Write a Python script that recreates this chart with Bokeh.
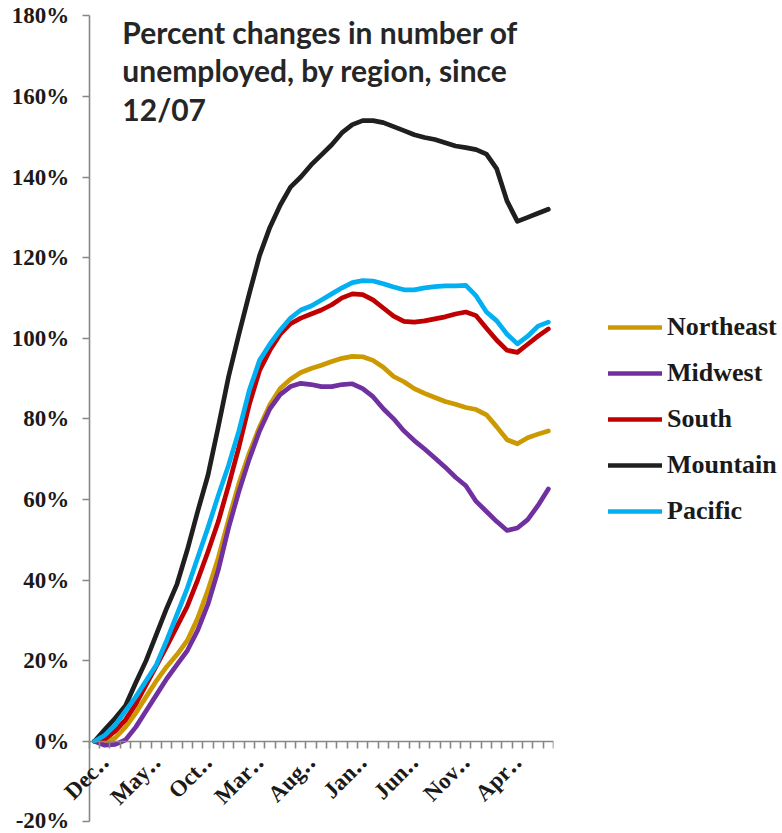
import math
from bokeh.plotting import figure
from bokeh.models import (Range1d, FixedTicker, Legend, LegendItem, Label,
                          LabelSet, ColumnDataSource)
from bokeh.core.properties import value
from bokeh.embed import file_html
from bokeh.resources import INLINE

# ---- data (percent change in number of unemployed since Dec 2007) ----
months = ["Dec-07", "Jan-08", "Feb-08", "Mar-08", "Apr-08", "May-08", "Jun-08", "Jul-08",
          "Aug-08", "Sep-08", "Oct-08", "Nov-08", "Dec-08", "Jan-09", "Feb-09", "Mar-09",
          "Apr-09", "May-09", "Jun-09", "Jul-09", "Aug-09", "Sep-09", "Oct-09", "Nov-09",
          "Dec-09", "Jan-10", "Feb-10", "Mar-10", "Apr-10", "May-10", "Jun-10", "Jul-10",
          "Aug-10", "Sep-10", "Oct-10", "Nov-10", "Dec-10", "Jan-11", "Feb-11", "Mar-11",
          "Apr-11", "May-11", "Jun-11", "Jul-11", "Aug-11"]

northeast = [0, -0.3, 0.8, 3.5, 7, 11, 15, 18.5, 21.5, 25, 30.5, 37.5, 45.5, 55, 64, 71.5,
             78, 83.5, 87.5, 89.8, 91.5, 92.5, 93.3, 94.2, 95, 95.5, 95.4, 94.5, 92.8, 90.5,
             89.2, 87.5, 86.3, 85.3, 84.3, 83.6, 82.8, 82.3, 81, 78, 74.8, 73.8, 75.3, 76.2, 77]
midwest = [0, -1, -0.8, 0.3, 3.5, 7.5, 11.5, 15.5, 19, 22.5, 27.5, 34, 42.5, 53, 62, 70,
           77, 82.5, 86, 88, 88.8, 88.5, 88, 88, 88.5, 88.7, 87.5, 85.5, 82.5, 80, 77,
           74.6, 72.5, 70.3, 68, 65.5, 63.4, 59.5, 57, 54.5, 52.3, 52.9, 55, 58.5, 62.6]
south = [0, 0.5, 2.5, 5.3, 9.2, 14, 18.7, 23.5, 28.5, 33.5, 40, 47, 54.5, 63.5, 73, 83.5,
         92, 97, 101, 103.6, 105, 106, 107, 108.3, 110, 111, 110.8, 109.5, 107.5, 105.5,
         104.2, 104, 104.3, 104.8, 105.3, 106, 106.5, 105.6, 102.5, 99.5, 97, 96.5, 98.5,
         100.5, 102.3]
mountain = [0, 2.9, 5.7, 8.8, 14.5, 20, 26.5, 33, 39, 47.5, 57, 66, 78, 90.5, 101, 111,
            120.5, 127.5, 133, 137.5, 140, 143, 145.5, 148, 151, 153, 154, 154, 153.5,
            152.5, 151.5, 150.5, 149.8, 149.3, 148.5, 147.7, 147.3, 146.8, 145.7, 142,
            134, 129, 130, 131, 132]
pacific = [0, 1.5, 4, 7.5, 11, 15, 19, 25, 31.5, 38, 45.5, 53, 61, 68.5, 77, 87, 94.5,
           98.5, 102, 105, 107, 108, 109.5, 111, 112.5, 113.8, 114.3, 114.2, 113.5, 112.7,
           112, 112, 112.5, 112.8, 113, 113, 113.1, 110.5, 106.5, 104.3, 101, 98.6, 100.5,
           103, 104]

series_names = ["Northeast", "Midwest", "South", "Mountain", "Pacific"]
series_values = [northeast, midwest, south, mountain, pacific]
series_colors = ["#CC9900", "#7030A0", "#C00000", "#1F1F1F", "#00B0F0"]

tick_positions = [0, 5, 10, 15, 20, 25, 30, 35, 40]
tick_labels = ["Dec\u2025", "May\u2025", "Oct\u2025", "Mar\u2025", "Aug\u2025",
               "Jan\u2025", "Jun\u2025", "Nov\u2025", "Apr\u2025"]
y_ticks = [-20, 0, 20, 40, 60, 80, 100, 120, 140, 160, 180]

title_lines = ["Percent changes in number of", "unemployed, by region, since", "12/07"]

SERIF = "'Liberation Serif', 'DejaVu Serif', serif"
TXT = "#1a1a1a"
axis_gray = "#878787"

# ---- figure ----
n = len(months)
x = list(range(n))
# the frame covers the whole canvas so that axis labels drawn at fixed
# locations are not clipped; the axes themselves are bounded
p = figure(frame_width=551, frame_height=832,
           x_range=Range1d(-8.92, n - 0.5), y_range=Range1d(-22.65, 183.8),
           output_backend="svg", toolbar_location=None,
           min_border_left=2, min_border_top=0, min_border_bottom=0,
           min_border_right=225)
p.outline_line_color = None
p.xgrid.visible = False
p.ygrid.visible = False

# y axis at the start of the categories
p.yaxis.fixed_location = -0.5
p.yaxis.bounds = (-20, 180)
p.yaxis.ticker = FixedTicker(ticks=y_ticks)
p.yaxis.major_label_overrides = {t: f"{t}%" for t in y_ticks}
p.yaxis.axis_line_color = axis_gray
p.yaxis.axis_line_width = 1.6
p.yaxis.major_tick_line_color = axis_gray
p.yaxis.major_tick_line_width = 1.6
p.yaxis.major_tick_out = 7
p.yaxis.major_tick_in = 0
p.yaxis.minor_tick_line_color = None
p.yaxis.major_label_standoff = 13
p.yaxis.major_label_text_font = SERIF
p.yaxis.major_label_text_font_style = "bold"
p.yaxis.major_label_text_font_size = "23px"
p.yaxis.major_label_text_color = TXT

# x axis drawn at y = 0, tick marks between categories
p.xaxis.fixed_location = 0
p.xaxis.bounds = (-0.5, n - 0.5)
p.xaxis.ticker = FixedTicker(ticks=[], minor_ticks=[i - 0.5 for i in range(n + 1)])
p.xaxis.axis_line_color = axis_gray
p.xaxis.axis_line_width = 1.6
p.xaxis.minor_tick_line_color = axis_gray
p.xaxis.minor_tick_line_width = 1.6
p.xaxis.minor_tick_out = 7
p.xaxis.minor_tick_in = 0
p.xaxis.major_tick_line_color = None

# x tick labels (rotated)
lab_src = ColumnDataSource(dict(x=tick_positions, y=[0] * len(tick_positions), text=tick_labels))
p.add_layout(LabelSet(x="x", y="y", text="text", source=lab_src, angle=math.pi / 4,
                      text_align="right", text_baseline="middle",
                      x_offset=11, y_offset=-17,
                      text_font=value(SERIF), text_font_style="bold",
                      text_font_size="23px", text_color=TXT))

# lines
renderers = []
for name, vals, col in zip(series_names, series_values, series_colors):
    r = p.line(x, vals, line_color=col, line_width=4.7, line_join="round", line_cap="round")
    renderers.append(r)

legend = Legend(items=[LegendItem(label=nm, renderers=[r]) for nm, r in zip(series_names, renderers)],
                location=(55, 306), orientation="vertical",
                glyph_width=54, glyph_height=30, label_height=30, label_standoff=5,
                spacing=16, padding=0, margin=0,
                border_line_color=None, background_fill_alpha=0,
                label_text_font=SERIF, label_text_font_style="bold",
                label_text_font_size="26px", label_text_color=TXT)
p.add_layout(legend, "right")

# title inside plot
for line_text, yb in zip(title_lines, [176.1, 166.5, 157.0]):
    p.add_layout(Label(x=2.7, y=yb, text=line_text, text_font="Lato",
                       text_font_style="bold", text_font_size="30px",
                       text_color="#262626", text_baseline="alphabetic"))

open("out.html", "w").write(file_html(p, INLINE))
